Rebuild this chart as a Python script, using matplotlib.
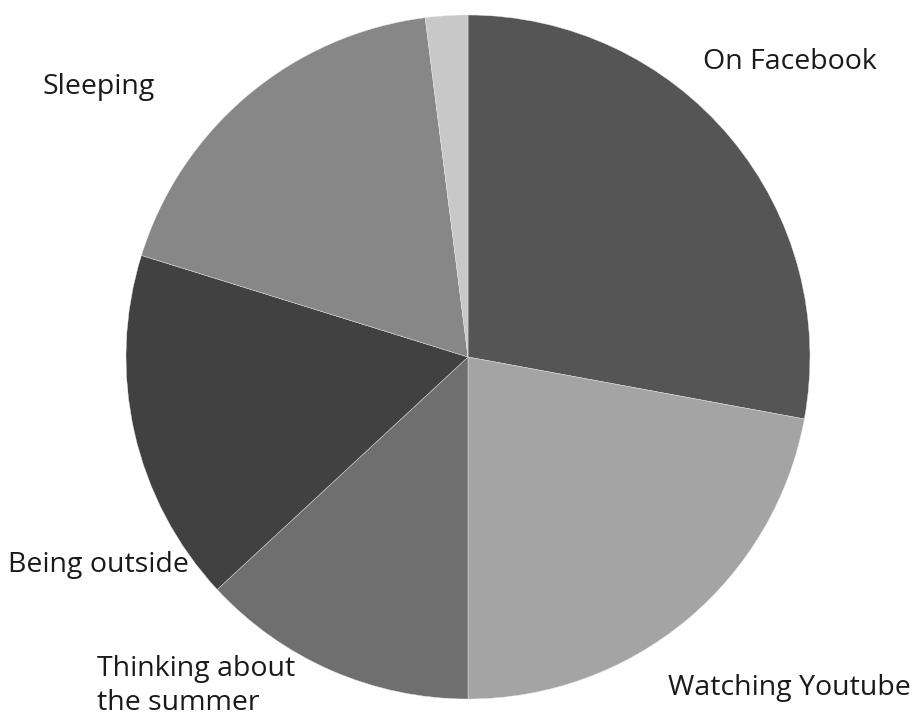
import matplotlib.pyplot as plt

labels = ["On Facebook", "Watching Youtube", "Thinking about\nthe summer",
          "Being outside", "Sleeping", ""]
values = [27.9, 22.1, 13.1, 16.7, 18.2, 2.0]
colors = ["#555555", "#a4a4a4", "#6f6f6f", "#414141", "#878787", "#c8c8c8"]

plt.rcParams['font.family'] = ['Open Sans', 'DejaVu Sans']

W, H = 917, 720
fig = plt.figure(figsize=(W / 100, H / 100), dpi=100)

# pie centre and radius in pixels
cx, cy, r = 468, 357, 342
ax = fig.add_axes([(cx - r) / W, (H - cy - r) / H, 2 * r / W, 2 * r / H])
ax.pie(values, colors=colors, startangle=90, counterclock=False,
       wedgeprops=dict(linewidth=0.3, edgecolor="#e8e8e8"))
ax.set_xlim(-1, 1)
ax.set_ylim(-1, 1)
ax.set_aspect("equal")
ax.axis("off")

# label positions (pixel coords: left x, centre y)
pos = [(703, 62), (668, 688), (97, 686), (8, 565), (42, 87)]
for lab, (x, y) in zip(labels, pos):
    fig.text(x / W, 1 - y / H, lab, ha="left", va="center", fontsize=20.5,
             color="#1a1a1a", linespacing=1.25)

fig.savefig("out.png", dpi=100, facecolor="white")
